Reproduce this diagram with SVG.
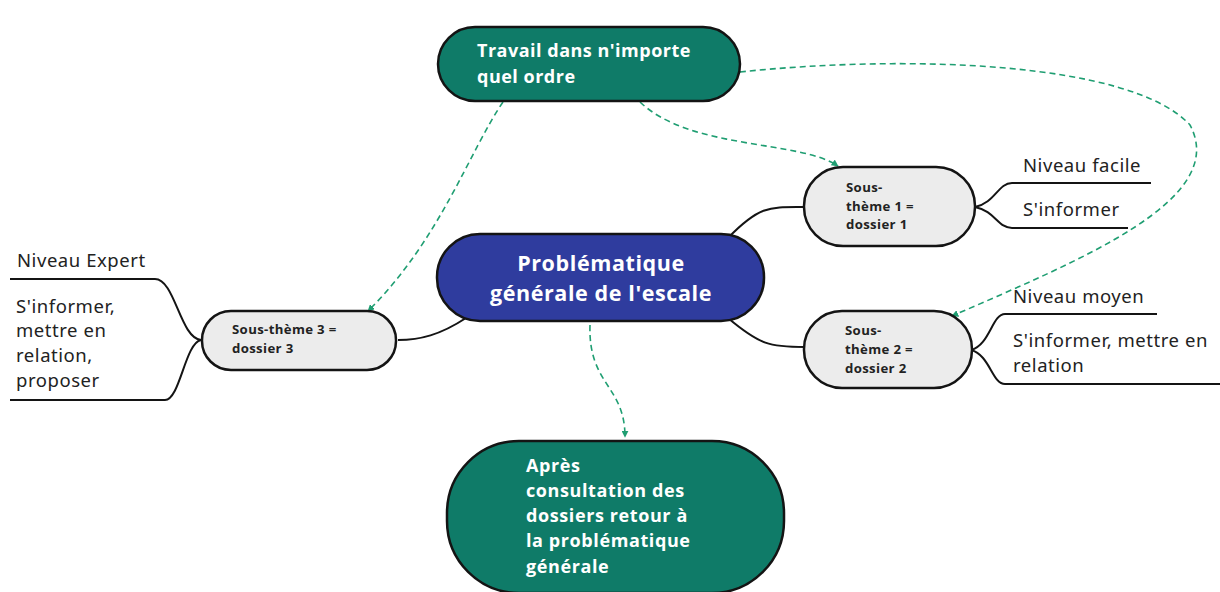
<svg xmlns="http://www.w3.org/2000/svg" width="1220" height="592" viewBox="0 0 1220 592">
<style>
.teal{fill:#0f7b68;stroke:#141414;stroke-width:2.5}
.blue{fill:#2f3c9e;stroke:#141414;stroke-width:2.5}
.grey{fill:#ececec;stroke:#141414;stroke-width:2.5}
.tw{fill:#ffffff;font-family:"Open Sans",sans-serif;font-weight:700}
.ts{fill:#222;font-family:"Open Sans",sans-serif;font-weight:700;font-size:13.2px;letter-spacing:0.35px}
.tl{fill:#222;font-family:"Noto Sans",sans-serif;font-size:18.5px;letter-spacing:0.55px}
.solid{fill:none;stroke:#141414;stroke-width:2}
.dash{fill:none;stroke:#1f9e72;stroke-width:1.6;stroke-dasharray:6 4;marker-end:url(#ah)}
</style>
<defs>
<marker id="ah" viewBox="0 0 10 10" refX="9" refY="5" markerWidth="7" markerHeight="7" markerUnits="userSpaceOnUse" orient="auto">
<path d="M0,0 L10,5 L0,10 z" fill="#1f9e72"/>
</marker>
</defs>
<rect width="1220" height="592" fill="#ffffff"/>
<g id="connectors">
<path class="solid" d="M728,238 C760,205 770,207 805,207"/>
<path class="solid" d="M728,318 C760,345 770,347 805,347"/>
<path class="solid" d="M466,318 C440,335 420,340 398,340"/>
<path class="solid" d="M975,207 C995,203 998,183 1012,183 L1151,183"/>
<path class="solid" d="M975,207 C995,211 998,228 1012,228 L1128,228"/>
<path class="solid" d="M971,350 C990,345 992,314 1005,314 L1157,314"/>
<path class="solid" d="M971,350 C990,355 992,384 1005,384 L1220,384"/>
<path class="solid" d="M201,340 C180,338 175,279 155,279 L10,279"/>
<path class="solid" d="M201,340 C185,343 180,400 165,400 L10,400"/>
<path class="dash" d="M503,102 C470,150 440,240 368,311"/>
<path class="dash" d="M640,102 C690,150 800,140 838,166"/>
<path class="dash" d="M740,72 C900,55 1130,60 1190,125 C1230,200 1080,260 952,316"/>
<path class="dash" d="M590,325 C588,385 625,385 625,437"/>
</g>
<g id="n-top">
<rect class="teal" x="438" y="27" width="302" height="74" rx="37"/>
<text class="tw" font-size="18" letter-spacing="0.5" x="477" y="57">Travail dans n'importe</text>
<text class="tw" font-size="18" letter-spacing="0.5" x="477" y="83">quel ordre</text>
</g>
<g id="n-center">
<rect class="blue" x="437" y="234" width="327" height="87" rx="43"/>
<text class="tw" font-size="21.5" letter-spacing="0.6" x="601" y="271" text-anchor="middle">Problématique</text>
<text class="tw" font-size="21.5" letter-spacing="0.6" x="601" y="301" text-anchor="middle">générale de l'escale</text>
</g>
<g id="n-bottom">
<rect class="teal" x="447" y="441" width="337" height="152" rx="72"/>
<text class="tw" font-size="18" letter-spacing="0.6" x="526" y="472">Après</text>
<text class="tw" font-size="18" letter-spacing="0.6" x="526" y="497">consultation des</text>
<text class="tw" font-size="18" letter-spacing="0.6" x="526" y="522">dossiers retour à</text>
<text class="tw" font-size="18" letter-spacing="0.6" x="526" y="547">la problématique</text>
<text class="tw" font-size="18" letter-spacing="0.6" x="526" y="573">générale</text>
</g>
<g id="n-st1">
<rect class="grey" x="804" y="167" width="171" height="79" rx="39"/>
<text class="ts" x="846" y="192">Sous-</text>
<text class="ts" x="846" y="211">thème 1 =</text>
<text class="ts" x="846" y="229">dossier 1</text>
</g>
<g id="n-st2">
<rect class="grey" x="804" y="311" width="168" height="77" rx="38"/>
<text class="ts" x="845" y="335">Sous-</text>
<text class="ts" x="845" y="354">thème 2 =</text>
<text class="ts" x="845" y="373">dossier 2</text>
</g>
<g id="n-st3">
<rect class="grey" x="202" y="311" width="194" height="59" rx="29"/>
<text class="ts" x="232" y="334">Sous-thème 3 =</text>
<text class="ts" x="232" y="353">dossier 3</text>
</g>
<g id="leaves">
<text class="tl" x="1023" y="172">Niveau facile</text>
<text class="tl" x="1023" y="216">S'informer</text>
<text class="tl" x="1013" y="303">Niveau moyen</text>
<text class="tl" x="1013" y="347">S'informer, mettre en</text>
<text class="tl" x="1013" y="372">relation</text>
<text class="tl" x="17" y="267">Niveau Expert</text>
<text class="tl" x="16" y="313">S'informer,</text>
<text class="tl" x="16" y="337">mettre en</text>
<text class="tl" x="16" y="362">relation,</text>
<text class="tl" x="16" y="387">proposer</text>
</g>
</svg>
